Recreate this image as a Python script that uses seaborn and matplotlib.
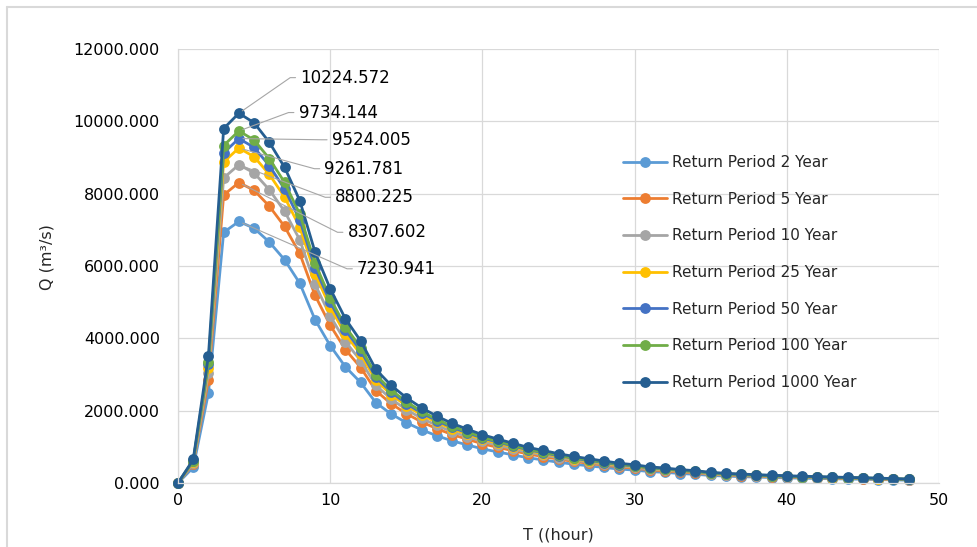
import matplotlib
matplotlib.use("Agg")
import seaborn as sns
import matplotlib.pyplot as plt
from matplotlib.lines import Line2D
from matplotlib.ticker import FormatStrFormatter

# time steps (hour)
hours = list(range(49))

# discharge Q (m3/s) for each return period
q_2 = [0, 430, 2489, 6931, 7230.941, 7044, 6662, 6174, 5523, 4519,
       3798, 3211, 2779, 2221, 1909, 1669, 1471, 1308, 1167, 1054,
       944, 859, 778, 697, 637, 573, 520, 474, 429, 385,
       357, 315, 294, 262, 240, 209, 190, 175, 163, 152,
       141, 133, 125, 117, 110, 103, 96, 86, 78]
q_5 = [0, 530, 2860, 7963, 8307.602, 8093, 7654, 7093, 6346, 5192,
       4363, 3689, 3193, 2551, 2194, 1918, 1690, 1503, 1341, 1211,
       1085, 987, 894, 800, 731, 658, 597, 544, 493, 443,
       410, 362, 337, 301, 276, 240, 218, 202, 187, 175,
       163, 153, 144, 134, 126, 118, 110, 99, 89]
q_10 = [0, 560, 3030, 8435, 8800.225, 8573, 8108, 7514, 6722, 5500,
        4622, 3908, 3383, 2703, 2324, 2031, 1790, 1592, 1420, 1282,
        1149, 1046, 947, 848, 775, 697, 633, 577, 522, 469,
        435, 383, 357, 318, 293, 254, 231, 213, 198, 185,
        172, 162, 152, 142, 133, 125, 116, 105, 95]
q_25 = [0, 589, 3188, 8877, 9261.781, 9022, 8533, 7908, 7074, 5788,
        4864, 4112, 3560, 2844, 2446, 2138, 1884, 1676, 1495, 1350,
        1209, 1101, 996, 892, 815, 734, 666, 607, 550, 494,
        457, 403, 376, 335, 308, 267, 243, 225, 208, 195,
        181, 170, 160, 149, 140, 131, 122, 111, 100]
q_50 = [0, 605, 3279, 9129, 9524.005, 9278, 8775, 8132, 7275, 5952,
        5002, 4229, 3661, 2925, 2515, 2198, 1938, 1723, 1537, 1388,
        1244, 1132, 1025, 918, 838, 755, 685, 624, 565, 508,
        470, 415, 387, 345, 317, 275, 250, 231, 214, 200,
        186, 175, 165, 154, 144, 135, 126, 114, 102]
q_100 = [0, 619, 3351, 9331, 9734.144, 9483, 8969, 8312, 7436, 6084,
         5113, 4323, 3742, 2990, 2571, 2247, 1980, 1761, 1571, 1419,
         1271, 1157, 1047, 938, 857, 771, 700, 638, 578, 519,
         481, 424, 395, 352, 324, 281, 255, 236, 219, 205,
         190, 179, 169, 157, 148, 138, 129, 116, 105]
q_1000 = [0, 650, 3520, 9800, 10224.572, 9960, 9420, 8730, 7810, 6390,
          5370, 4540, 3930, 3140, 2700, 2360, 2080, 1850, 1650, 1490,
          1335, 1215, 1100, 985, 900, 810, 735, 670, 607, 545,
          505, 445, 415, 370, 340, 295, 268, 248, 230, 215,
          200, 188, 177, 165, 155, 145, 135, 122, 110]

series_names = ["Return Period 2 Year", "Return Period 5 Year", "Return Period 10 Year",
                "Return Period 25 Year", "Return Period 50 Year", "Return Period 100 Year",
                "Return Period 1000 Year"]
series_values = [q_2, q_5, q_10, q_25, q_50, q_100, q_1000]
colors = ["#5B9BD5", "#ED7D31", "#A5A5A5", "#FFC000", "#4472C4", "#70AD47", "#255E91"]

# where the peak labels sit (data coords)
label_pos = [(11.76, 5923), (11.14, 6932), (10.33, 7900), (9.62, 8690),
             (10.1, 9490), (7.92, 10243), (8.03, 11208)]

sns.set_style("white")
plt.rcParams['font.family'] = ['DejaVu Sans']

fig = plt.figure(figsize=(9.78, 5.47), dpi=100)
ax = fig.add_axes([178 / 978, 1 - 483 / 547, (939 - 178) / 978, (483 - 49) / 547])

for name, vals, c in zip(series_names, series_values, colors):
    sns.lineplot(x=hours, y=vals, ax=ax, color=c, label=name, marker="o",
                 markersize=7.8, markeredgewidth=0, linewidth=2, clip_on=False)

# peak value labels with leader lines
for vals, (tx, ty) in zip(series_values, label_pos):
    i = vals.index(max(vals))
    ax.annotate(f"{vals[i]:.3f}", xy=(hours[i], vals[i]), xytext=(tx, ty),
                textcoords="data", ha="left", va="center", fontsize=12, color="#000000",
                arrowprops=dict(arrowstyle="-", color="#a6a6a6", lw=0.8, relpos=(0, 0.5),
                                shrinkA=1, shrinkB=3,
                                connectionstyle="arc,angleA=180,armA=10,angleB=0,armB=0,rad=0"))

ax.set_xlim(0, 50)
ax.set_ylim(0, 12000)
ax.set_xticks(range(0, 51, 10))
ax.set_yticks(range(0, 12001, 2000))
ax.yaxis.set_major_formatter(FormatStrFormatter("%.3f"))
ax.tick_params(axis="both", length=0, labelsize=11.5, colors="#000000")
ax.tick_params(axis="y", pad=13)
ax.tick_params(axis="x", pad=7)

ax.grid(True, color="#d9d9d9", linewidth=0.9)
ax.set_axisbelow(True)
for side in ["top", "right"]:
    ax.spines[side].set_visible(False)
for side in ["left", "bottom"]:
    ax.spines[side].set_color("#d9d9d9")
    ax.spines[side].set_linewidth(0.9)

ax.set_xlabel("T ((hour)", fontsize=11.5)
ax.set_ylabel("Q (m³/s)", fontsize=11.5)
ax.xaxis.set_label_coords(0.5, -0.103)
ax.yaxis.set_label_coords(-0.162, 0.52)

ax.legend(loc="upper left", bbox_to_anchor=(623 / 978, 1 - 155 / 547),
          bbox_transform=fig.transFigure, frameon=False, fontsize=11,
          handlelength=2.9, handletextpad=0.3, labelspacing=1.42,
          borderpad=0, borderaxespad=0)

# outer chart border (top and left edges visible)
fig.add_artist(Line2D([7 / 978, 1], [1 - 7 / 547] * 2, color="#d9d9d9", lw=1.5))
fig.add_artist(Line2D([7 / 978] * 2, [0, 1 - 7 / 547], color="#d9d9d9", lw=1.5))

fig.savefig("out.png", dpi=100)
